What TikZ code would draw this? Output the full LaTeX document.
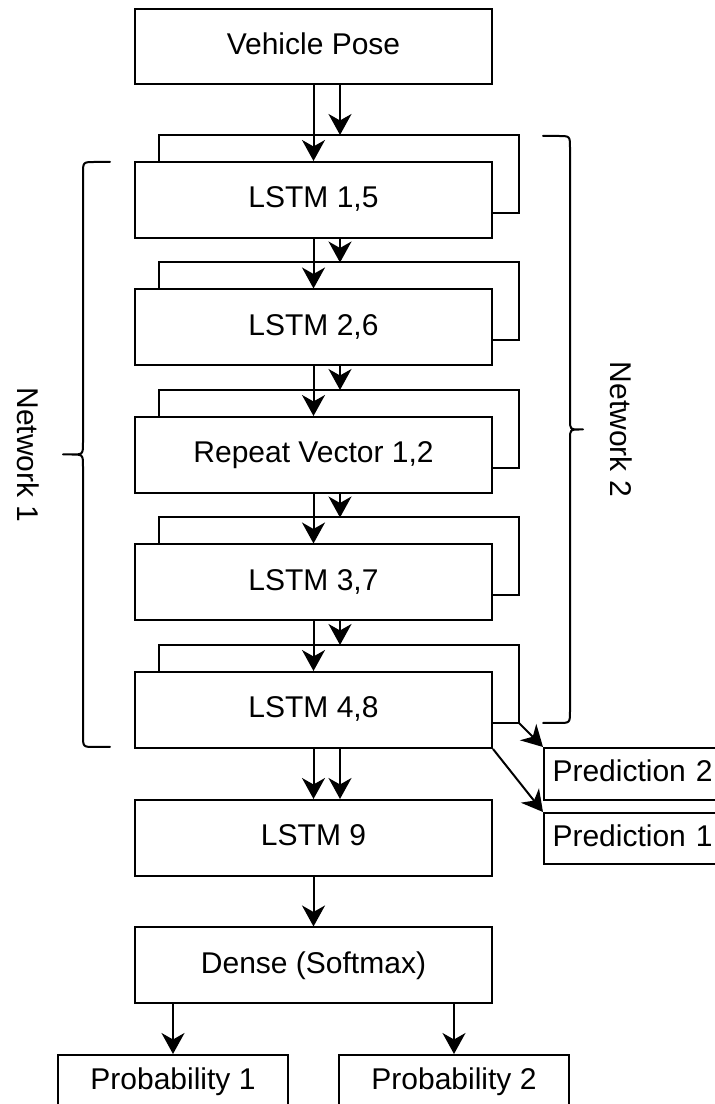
\documentclass[tikz,border=0pt]{standalone}
\usepackage{fontspec}
\setmainfont{Liberation Sans}
\usetikzlibrary{arrows.meta,calc}
\begin{document}
\begin{tikzpicture}[x=1pt,y=1pt,
  box/.style={draw, line width=2pt, fill=white, minimum width=357pt, minimum height=76pt,
    inner sep=0pt, text height=22pt, text depth=6pt, font=\fontsize{30}{36}\selectfont},
  wire/.style={line width=2pt},
  arr/.style={wire, -{Stealth[length=21pt,width=23pt,inset=6.5pt]}},
  brace/.style={line width=2pt, line join=round, line cap=round},
  lbl/.style={font=\fontsize{30}{36}\selectfont, rotate=-90}
]
\fill[white] (0,0) rectangle (715,1104);
\useasboundingbox (0,0) rectangle (715,1104);

% layer stack
\node[box, minimum height=75pt] (vp) at (313.5,1057.5) {Vehicle Pose};
\node[box] (l1) at (313.5,904)   {LSTM 1,5};
\node[box] (l2) at (313.5,776.5) {LSTM 2,6};
\node[box] (rv) at (313.5,649)   {Repeat Vector 1,2};
\node[box] (l3) at (313.5,521.5) {LSTM 3,7};
\node[box] (l4) at (313.5,394)   {LSTM 4,8};
\node[box] (l9) at (313.5,266)   {LSTM 9};
\node[box] (dn) at (313.5,138.5) {Dense (Softmax)};

% outputs
\node[box, minimum width=230pt, minimum height=54pt] (p1) at (173,22) {Probability 1};
\node[box, minimum width=230pt, minimum height=54pt] (p2) at (454,22) {Probability 2};
\node[box, anchor=north west, minimum width=0pt, minimum height=52pt, text width=183pt,
      inner xsep=8.5pt, align=left] (pr2) at (543,357) {Prediction 2};
\node[box, anchor=north west, minimum width=0pt, minimum height=51pt, text width=183pt,
      inner xsep=8.5pt, align=left] (pr1) at (543,292) {Prediction 1};

% recurrent feedback loops
\foreach \b in {l1,l2,rv,l3,l4}{
  \draw[wire] ([yshift=-13pt]\b.east) -- ++(26,0)
      |- ([xshift=25pt,yshift=26pt]\b.north west) -- ([xshift=25pt]\b.north west);
}

% forward connections
\foreach \a/\b in {vp/l1, l1/l2, l2/rv, rv/l3, l3/l4}{
  \draw[arr] (\a.south) -- (\b.north);
  \draw[arr] ([xshift=26.5pt]\a.south) -- ([xshift=26.5pt,yshift=26pt]\b.north);
}
\draw[arr] (l4.south) -- (l9.north);
\draw[arr] ([xshift=26.5pt]l4.south) -- ([xshift=26.5pt]l9.north);
\draw[arr] (l9.south) -- (dn.north);
\draw[arr] (dn.south -| p1.north) -- (p1.north);
\draw[arr] (dn.south -| p2.north) -- (p2.north);

\coordinate (l4out) at ([xshift=26pt,yshift=-13pt]l4.east);
\draw[arr] (l4out) -- (pr2.north west);
\draw[arr] (l4.south east) -- (pr1.north west);

% network braces
\draw[brace] (110,942) -- (95,942) .. controls (83,942) .. (83,930) -- (83,661.5)
  .. controls (83,649.5) .. (71,649.5) -- (63,649.5) -- (71,649.5)
  .. controls (83,649.5) .. (83,637.5) -- (83,369) .. controls (83,357) .. (95,357) -- (110,357);
\draw[brace] (543,968) -- (558,968) .. controls (570,968) .. (570,956) -- (570,684.5)
  .. controls (570,674.5) .. (580,674.5) -- (583,674.5) -- (580,674.5)
  .. controls (570,674.5) .. (570,664.5) -- (570,393) .. controls (570,381) .. (558,381) -- (543,381);

\node[lbl] (n1) at (28,649) {Network 1};
\node[lbl] (n2) at (621,674.5) {Network 2};
\end{tikzpicture}
\end{document}
